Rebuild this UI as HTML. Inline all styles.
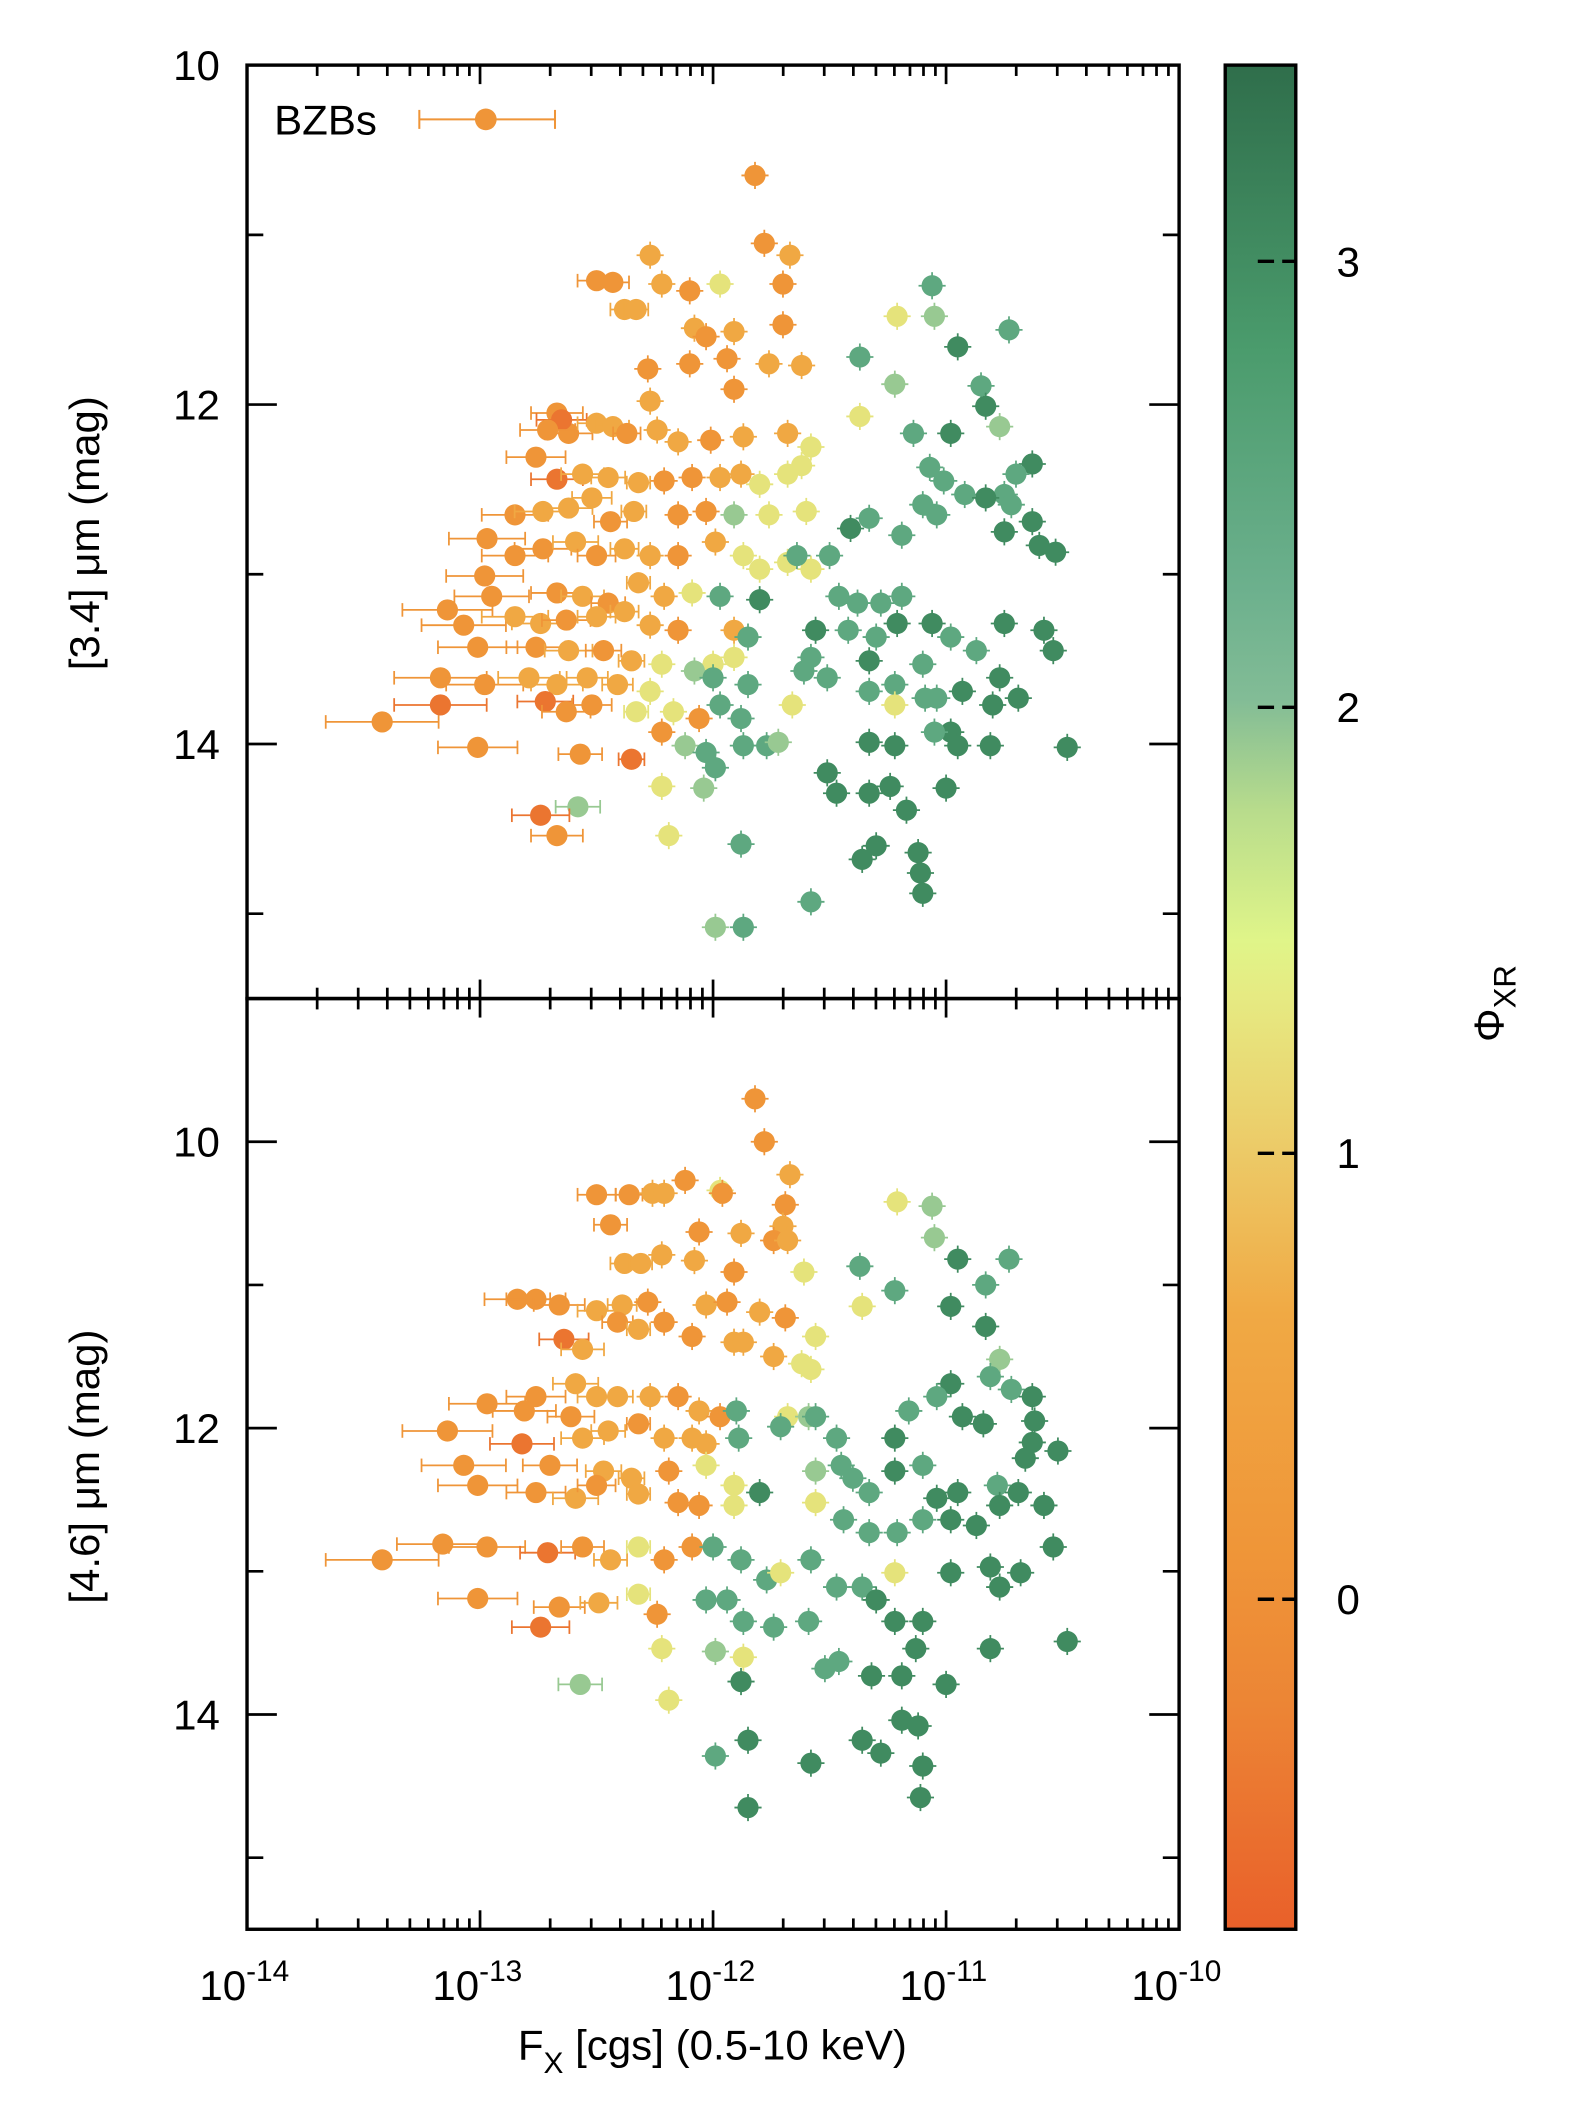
<!DOCTYPE html>
<html><head><meta charset="utf-8"><style>
html,body{margin:0;padding:0;background:#fff}
svg{display:block}
text{font-family:"Liberation Sans","DejaVu Sans",sans-serif;fill:#000}
</style></head><body>
<svg id="chart" width="1574" height="2126" viewBox="0 0 1160 1567" xmlns="http://www.w3.org/2000/svg">
<defs>
<linearGradient id="cbar" x1="0" y1="1" x2="0" y2="0">
<stop offset="0" stop-color="#e9602a"/>
<stop offset="0.12" stop-color="#ec8535"/>
<stop offset="0.2" stop-color="#ef9538"/>
<stop offset="0.33" stop-color="#f0a944"/>
<stop offset="0.42" stop-color="#eccb68"/>
<stop offset="0.5" stop-color="#e6ea82"/>
<stop offset="0.53" stop-color="#e0f589"/>
<stop offset="0.6" stop-color="#b8dc8c"/>
<stop offset="0.66" stop-color="#82bc96"/>
<stop offset="0.72" stop-color="#6cb08d"/>
<stop offset="0.85" stop-color="#4a9b6c"/>
<stop offset="1" stop-color="#2f6e4b"/>
</linearGradient>
</defs>
<g id="plots"></g>
</svg>
<script>
// Phi class values
const phiClasses = {R:-0.45, O:0.1, L:0.6, Y:1.2, G1:1.75, G2:2.3, G3:2.9};
// Top panel: [log Fx, [3.4] mag, phi class]
const topPoints = [
[-11.82,10.65,'O'],[-11.78,11.05,'O'],[-11.67,11.12,'L'],[-12.27,11.12,'L'],[-12.50,11.27,'O'],[-12.43,11.28,'O'],[-12.22,11.29,'L'],[-12.10,11.33,'O'],[-11.97,11.29,'Y'],[-11.70,11.29,'O'],
[-11.06,11.30,'G2'],[-11.21,11.48,'Y'],[-11.05,11.48,'G1'],[-10.73,11.56,'G2'],[-12.38,11.44,'L'],[-12.33,11.44,'L'],[-12.08,11.55,'L'],[-12.03,11.60,'O'],[-11.91,11.57,'L'],[-11.70,11.53,'O'],
[-11.37,11.72,'G2'],[-10.95,11.66,'G3'],[-12.10,11.76,'O'],[-11.94,11.73,'O'],[-11.76,11.76,'L'],[-11.62,11.77,'L'],[-11.22,11.88,'G1'],[-12.28,11.79,'O'],[-11.91,11.91,'O'],[-12.27,11.98,'L'],
[-10.85,11.89,'G2'],[-10.83,12.01,'G3'],[-10.77,12.13,'G1'],[-11.37,12.07,'Y'],[-11.14,12.17,'G2'],[-10.98,12.17,'G3'],[-12.67,12.05,'O'],[-12.62,12.17,'O'],[-12.65,12.09,'R'],[-12.71,12.15,'O'],
[-12.50,12.11,'L'],[-12.43,12.13,'L'],[-12.37,12.17,'O'],[-12.24,12.15,'L'],[-12.15,12.22,'L'],[-12.01,12.21,'O'],[-11.87,12.19,'L'],[-11.68,12.17,'L'],[-11.58,12.25,'Y'],[-10.63,12.35,'G3'],
[-10.70,12.41,'G2'],[-10.75,12.53,'G2'],[-10.72,12.59,'G2'],[-12.76,12.31,'O'],[-12.67,12.44,'R'],[-12.56,12.41,'L'],[-12.45,12.43,'L'],[-12.32,12.46,'L'],[-12.21,12.45,'O'],[-12.09,12.43,'O'],
[-11.97,12.43,'L'],[-11.88,12.41,'L'],[-11.80,12.47,'Y'],[-11.68,12.41,'Y'],[-11.62,12.36,'Y'],[-11.07,12.37,'G2'],[-11.01,12.45,'G2'],[-11.10,12.59,'G2'],[-10.92,12.53,'G2'],[-10.83,12.55,'G3'],
[-12.85,12.65,'O'],[-12.73,12.63,'L'],[-12.62,12.61,'L'],[-12.52,12.55,'L'],[-12.44,12.69,'O'],[-12.34,12.63,'L'],[-12.15,12.65,'O'],[-12.03,12.63,'O'],[-11.91,12.65,'G1'],[-11.76,12.65,'Y'],
[-11.60,12.63,'Y'],[-11.41,12.73,'G3'],[-11.19,12.77,'G2'],[-11.33,12.67,'G2'],[-11.04,12.65,'G2'],[-10.75,12.75,'G3'],[-10.63,12.69,'G3'],[-10.60,12.83,'G3'],[-10.53,12.87,'G3'],[-12.97,12.79,'O'],
[-12.85,12.89,'O'],[-12.73,12.85,'O'],[-12.59,12.81,'L'],[-12.50,12.89,'O'],[-12.38,12.85,'L'],[-12.27,12.89,'L'],[-12.15,12.89,'O'],[-11.99,12.81,'L'],[-11.87,12.89,'Y'],[-11.80,12.97,'Y'],
[-11.68,12.93,'Y'],[-11.58,12.97,'Y'],[-11.64,12.89,'G2'],[-11.50,12.89,'G2'],[-12.98,13.01,'O'],[-12.95,13.13,'O'],[-12.67,13.11,'O'],[-12.56,13.13,'L'],[-12.45,13.17,'O'],[-12.32,13.05,'L'],
[-12.21,13.13,'L'],[-12.09,13.11,'Y'],[-11.97,13.13,'G2'],[-11.80,13.15,'G3'],[-11.46,13.13,'G2'],[-11.38,13.17,'G2'],[-11.28,13.17,'G2'],[-11.19,13.13,'G2'],[-13.14,13.21,'O'],[-13.07,13.30,'O'],
[-12.85,13.25,'L'],[-12.74,13.29,'L'],[-12.63,13.27,'O'],[-12.50,13.25,'L'],[-12.38,13.22,'L'],[-12.27,13.30,'L'],[-12.15,13.33,'O'],[-11.91,13.33,'L'],[-11.56,13.33,'G3'],[-11.42,13.33,'G2'],
[-11.30,13.37,'G2'],[-11.21,13.29,'G3'],[-11.06,13.29,'G3'],[-10.98,13.37,'G2'],[-10.75,13.29,'G3'],[-10.58,13.33,'G3'],[-13.01,13.43,'O'],[-12.76,13.43,'O'],[-12.62,13.45,'L'],[-12.47,13.45,'O'],
[-12.35,13.51,'L'],[-12.22,13.53,'Y'],[-12.00,13.53,'Y'],[-11.91,13.49,'Y'],[-11.85,13.37,'G2'],[-11.58,13.49,'G2'],[-11.33,13.51,'G3'],[-11.10,13.53,'G2'],[-10.87,13.45,'G2'],[-10.77,13.61,'G3'],
[-10.54,13.45,'G3'],[-13.17,13.61,'O'],[-12.98,13.65,'O'],[-12.79,13.61,'L'],[-12.67,13.65,'L'],[-12.54,13.61,'L'],[-12.41,13.65,'L'],[-12.27,13.69,'Y'],[-12.08,13.57,'G1'],[-12.00,13.61,'G2'],
[-11.85,13.65,'G2'],[-11.61,13.57,'G2'],[-11.51,13.61,'G2'],[-11.33,13.69,'G2'],[-11.22,13.65,'G2'],[-11.04,13.73,'G2'],[-10.93,13.69,'G3'],[-10.80,13.77,'G3'],[-10.69,13.73,'G3'],[-13.42,13.87,'O'],
[-13.17,13.77,'R'],[-12.72,13.75,'R'],[-12.63,13.81,'O'],[-12.52,13.77,'O'],[-12.33,13.81,'Y'],[-12.17,13.81,'Y'],[-12.06,13.85,'O'],[-11.97,13.77,'G2'],[-11.88,13.85,'G2'],[-11.66,13.77,'Y'],
[-11.22,13.77,'Y'],[-11.09,13.73,'G2'],[-10.98,13.93,'G3'],[-13.01,14.02,'O'],[-12.57,14.06,'O'],[-12.35,14.09,'R'],[-12.22,13.93,'O'],[-12.12,14.01,'G1'],[-12.03,14.05,'G2'],[-11.87,14.01,'G2'],
[-11.77,14.01,'G2'],[-11.72,13.99,'G1'],[-11.33,13.99,'G3'],[-11.22,14.01,'G3'],[-11.05,13.93,'G2'],[-10.95,14.01,'G3'],[-10.81,14.01,'G3'],[-10.48,14.02,'G3'],[-12.58,14.37,'G1'],[-12.74,14.42,'R'],
[-12.67,14.54,'O'],[-12.22,14.25,'Y'],[-12.04,14.26,'G1'],[-11.99,14.14,'G2'],[-11.51,14.17,'G3'],[-11.47,14.29,'G3'],[-11.33,14.29,'G3'],[-11.24,14.25,'G3'],[-11.17,14.39,'G3'],[-11.00,14.26,'G3'],
[-12.19,14.54,'Y'],[-11.88,14.59,'G2'],[-11.36,14.68,'G3'],[-11.30,14.60,'G3'],[-11.12,14.64,'G3'],[-11.11,14.76,'G3'],[-11.10,14.88,'G3'],[-11.58,14.93,'G2'],[-11.99,15.08,'G1'],[-11.87,15.08,'G2']
];
// Bottom panel: [log Fx, [4.6] mag, phi class]
const botPoints = [
[-11.82,9.70,'O'],[-11.78,10.00,'O'],[-11.67,10.23,'L'],[-11.97,10.34,'Y'],[-11.96,10.36,'O'],[-12.12,10.27,'O'],[-12.50,10.37,'O'],[-12.36,10.37,'O'],[-12.26,10.36,'L'],[-12.21,10.36,'L'],
[-11.21,10.42,'Y'],[-11.06,10.45,'G1'],[-12.44,10.58,'O'],[-12.06,10.63,'O'],[-11.88,10.64,'L'],[-11.69,10.44,'O'],[-11.70,10.59,'L'],[-11.74,10.69,'O'],[-11.68,10.69,'L'],[-11.05,10.67,'G1'],
[-10.95,10.82,'G3'],[-10.73,10.82,'G2'],[-11.37,10.87,'G2'],[-11.22,11.04,'G2'],[-12.38,10.85,'L'],[-12.31,10.85,'L'],[-12.22,10.79,'L'],[-12.08,10.83,'L'],[-11.91,10.91,'O'],[-11.61,10.91,'Y'],
[-11.36,11.15,'Y'],[-10.83,11.00,'G2'],[-10.83,11.29,'G3'],[-10.77,11.52,'G1'],[-10.98,11.15,'G3'],[-12.84,11.10,'O'],[-12.76,11.10,'O'],[-12.66,11.14,'O'],[-12.50,11.18,'L'],[-12.39,11.14,'L'],
[-12.28,11.12,'O'],[-12.03,11.14,'L'],[-11.94,11.12,'O'],[-11.80,11.19,'L'],[-11.69,11.23,'O'],[-11.56,11.36,'Y'],[-12.64,11.38,'R'],[-12.56,11.45,'L'],[-12.41,11.26,'O'],[-12.32,11.31,'L'],
[-12.21,11.26,'O'],[-12.09,11.36,'O'],[-11.91,11.40,'L'],[-11.87,11.40,'L'],[-11.74,11.50,'L'],[-11.62,11.55,'Y'],[-11.58,11.59,'Y'],[-10.81,11.64,'G2'],[-10.72,11.73,'G2'],[-10.98,11.69,'G3'],
[-11.04,11.78,'G2'],[-11.16,11.88,'G2'],[-10.93,11.92,'G3'],[-10.84,11.97,'G3'],[-10.63,11.78,'G3'],[-10.62,11.95,'G3'],[-10.63,12.10,'G3'],[-10.66,12.21,'G3'],[-10.52,12.16,'G3'],[-12.76,11.78,'O'],
[-12.59,11.69,'L'],[-12.50,11.78,'L'],[-12.41,11.78,'L'],[-12.27,11.78,'L'],[-12.15,11.78,'O'],[-12.06,11.88,'L'],[-11.97,11.92,'O'],[-11.90,11.88,'G2'],[-11.68,11.92,'Y'],[-11.59,11.92,'G1'],
[-11.47,12.07,'G2'],[-12.97,11.83,'O'],[-12.81,11.88,'O'],[-12.61,11.92,'O'],[-12.56,12.07,'L'],[-12.45,12.02,'L'],[-12.32,11.97,'O'],[-12.21,12.07,'L'],[-12.09,12.07,'L'],[-12.03,12.11,'L'],
[-11.89,12.07,'G2'],[-11.71,11.99,'G2'],[-11.56,11.92,'G2'],[-11.45,12.26,'G2'],[-11.22,12.07,'G3'],[-11.10,12.26,'G2'],[-10.78,12.40,'G2'],[-10.69,12.45,'G3'],[-10.58,12.54,'G3'],[-13.14,12.02,'O'],
[-13.07,12.26,'O'],[-12.82,12.11,'R'],[-12.70,12.26,'O'],[-12.47,12.30,'L'],[-12.35,12.35,'L'],[-12.19,12.30,'O'],[-12.03,12.26,'Y'],[-11.91,12.40,'Y'],[-11.80,12.45,'G3'],[-11.56,12.30,'G1'],
[-11.40,12.35,'G2'],[-11.33,12.45,'G2'],[-11.22,12.30,'G3'],[-11.04,12.49,'G3'],[-10.95,12.45,'G3'],[-10.77,12.54,'G3'],[-13.01,12.40,'O'],[-12.76,12.45,'O'],[-12.59,12.49,'L'],[-12.50,12.40,'O'],
[-12.32,12.46,'L'],[-12.15,12.52,'O'],[-12.06,12.54,'O'],[-11.91,12.54,'Y'],[-11.56,12.52,'Y'],[-11.44,12.64,'G2'],[-11.33,12.73,'G2'],[-11.21,12.73,'G2'],[-11.10,12.64,'G2'],[-10.98,12.64,'G3'],
[-10.87,12.68,'G3'],[-13.42,12.92,'O'],[-13.16,12.81,'O'],[-12.97,12.83,'O'],[-12.71,12.87,'R'],[-12.56,12.83,'O'],[-12.44,12.92,'L'],[-12.32,12.83,'Y'],[-12.21,12.92,'O'],[-12.09,12.83,'O'],
[-12.00,12.83,'G2'],[-11.88,12.92,'G2'],[-11.77,13.06,'G2'],[-11.71,13.01,'Y'],[-11.58,12.92,'G2'],[-11.47,13.11,'G2'],[-11.36,13.11,'G2'],[-11.22,13.01,'Y'],[-10.98,13.01,'G3'],[-10.81,12.97,'G3'],
[-10.77,13.11,'G3'],[-10.68,13.01,'G3'],[-10.54,12.83,'G3'],[-13.01,13.19,'O'],[-12.74,13.39,'R'],[-12.66,13.25,'O'],[-12.49,13.22,'L'],[-12.32,13.16,'Y'],[-12.24,13.30,'O'],[-12.03,13.20,'G2'],
[-11.94,13.20,'G2'],[-11.87,13.35,'G2'],[-11.74,13.39,'G2'],[-11.59,13.35,'G2'],[-11.30,13.20,'G3'],[-11.22,13.35,'G3'],[-11.10,13.35,'G3'],[-10.81,13.54,'G3'],[-10.48,13.49,'G3'],[-12.22,13.54,'Y'],
[-11.99,13.56,'G1'],[-11.87,13.60,'Y'],[-11.52,13.68,'G2'],[-11.46,13.63,'G2'],[-11.32,13.73,'G3'],[-11.19,13.73,'G3'],[-11.13,13.54,'G3'],[-11.00,13.79,'G3'],[-11.88,13.77,'G3'],[-12.57,13.79,'G1'],
[-12.19,13.90,'Y'],[-11.36,14.18,'G3'],[-11.28,14.27,'G3'],[-11.19,14.04,'G3'],[-11.12,14.08,'G3'],[-11.85,14.18,'G3'],[-11.99,14.29,'G2'],[-11.58,14.34,'G3'],[-11.10,14.36,'G3'],[-11.85,14.65,'G3'],
[-11.11,14.58,'G3']
];
const xTickLabels = ["-14","-13","-12","-11","-10"];
const cbTicks = [0,1,2,3];

const X0=182, X1=869;
const xs = v => X0 + (v+14)*(X1-X0)/4;
const P1 = {top:48, bot:736, min:10, max:15.5};
const P2 = {top:736, bot:1422, min:9, max:15.5};
const ys = (p,v) => p.top + (v-p.min)*(p.bot-p.top)/(p.max-p.min);
const CB = {x:903, w:52, top:48, bot:1422, min:-0.74, max:3.44};
const cbY = v => CB.bot - (v-CB.min)*(CB.bot-CB.top)/(CB.max-CB.min);

const stops=[[-0.74,[233,96,42]],[-0.24,[236,133,53]],[0.1,[239,149,56]],[0.64,[240,169,68]],[1.0,[236,203,104]],[1.35,[224,245,137]],[1.6,[184,220,140]],[1.85,[130,188,150]],[2.1,[108,176,141]],[2.6,[74,155,108]],[3.44,[47,110,75]]];
function col(v){
  for(let i=1;i<stops.length;i++){ if(v<=stops[i][0]){const a=stops[i-1],b=stops[i];const t=(v-a[0])/(b[0]-a[0]);
    return 'rgb('+a[1].map((c,k)=>Math.round(c+(b[1][k]-c)*t)).join(',')+')';}}
  return 'rgb(47,110,75)';
}
const NS='http://www.w3.org/2000/svg';
const root=document.getElementById('plots');
function mk(tag,attrs,parent){const e=document.createElementNS(NS,tag);for(const k in attrs)e.setAttribute(k,attrs[k]);(parent||root).appendChild(e);return e;}

function drawPoints(p,pts,name){
  const g=mk('g',{});
  
  
  pts.forEach(d=>{
    const c=col(phiClasses[d[2]]);
    const x=xs(d[0]), y=ys(p,d[1]);
    const pg=mk('g',{},g);
    
    
    if(d[0]<-12.3){
      const e=(-12.3-d[0])*30+8;
      mk('line',{x1:x-e,y1:y,x2:x+e,y2:y,stroke:c,'stroke-width':1.3},pg);
      mk('line',{x1:x-e,y1:y-5,x2:x-e,y2:y+5,stroke:c,'stroke-width':1.3},pg);
      mk('line',{x1:x+e,y1:y-5,x2:x+e,y2:y+5,stroke:c,'stroke-width':1.3},pg);
    } else {
      mk('line',{x1:x-10,y1:y,x2:x+10,y2:y,stroke:c,'stroke-width':1.3},pg);
      mk('line',{x1:x,y1:y-10,x2:x,y2:y+10,stroke:c,'stroke-width':1.3},pg);
    }
    mk('circle',{cx:x,cy:y,r:7.8,fill:c},pg);
  });
}
drawPoints(P1,topPoints,'w1-points');
drawPoints(P2,botPoints,'w2-points');

function frame(p,name,majors,minors,labels,yname,ty){
  const g=mk('g',{});
  
  
  mk('rect',{x:X0,y:p.top,width:X1-X0,height:p.bot-p.top,fill:'none',stroke:'#000','stroke-width':2.5},g);
  for(let d=-14;d<-10;d++){
    for(let m=1;m<=9;m++){
      if(m===1 && d===-14) continue;
      const x=xs(d+Math.log10(m)); const L=m===1?14:8;
      mk('line',{x1:x,y1:p.top,x2:x,y2:p.top+L,stroke:'#000','stroke-width':2},g);
      mk('line',{x1:x,y1:p.bot,x2:x,y2:p.bot-L,stroke:'#000','stroke-width':2},g);
    }
  }
  majors.forEach((v,i)=>{const y=ys(p,v);
    mk('line',{x1:X0,y1:y,x2:X0+22,y2:y,stroke:'#000','stroke-width':2},g);
    mk('line',{x1:X1,y1:y,x2:X1-22,y2:y,stroke:'#000','stroke-width':2},g);
    const t=mk('text',{x:162,y:y+11,'text-anchor':'end','font-size':31},g);t.textContent=labels[i];
    
    
  });
  minors.forEach(v=>{const y=ys(p,v);
    mk('line',{x1:X0,y1:y,x2:X0+12,y2:y,stroke:'#000','stroke-width':2},g);
    mk('line',{x1:X1,y1:y,x2:X1-12,y2:y,stroke:'#000','stroke-width':2},g);
  });
  const t=mk('text',{x:0,y:0,'text-anchor':'middle','font-size':31,transform:'translate(73,'+ty+') rotate(-90)'},g);
  t.textContent=yname;
  
  
}
frame(P1,'w1-panel',[10,12,14],[11,13,15],['10','12','14'],'[3.4] μm (mag)',393);
frame(P2,'w2-panel',[10,12,14],[9,11,13,15],['10','12','14'],'[4.6] μm (mag)',1081);

xTickLabels.forEach((s,i)=>{
  const x=xs(-14+i);
  const t=mk('text',{x:x-2,y:1474,'text-anchor':'middle','font-size':31});
  
  
  mk('tspan',{},t).textContent='10';
  mk('tspan',{dy:-14,'font-size':22},t).textContent=s;
});
const xt=mk('text',{x:525,y:1518,'text-anchor':'middle','font-size':31});


mk('tspan',{},xt).textContent='F';
mk('tspan',{dy:10,'font-size':22},xt).textContent='X';
mk('tspan',{dy:-10},xt).textContent=' [cgs] (0.5-10 keV)';

const lg=mk('g',{});


mk('text',{x:202,y:99,'font-size':31},lg).textContent='BZBs';
mk('line',{x1:309,y1:88,x2:409,y2:88,stroke:'#ef9538','stroke-width':1.5},lg);
mk('line',{x1:309,y1:81,x2:309,y2:95,stroke:'#ef9538','stroke-width':1.5},lg);
mk('line',{x1:409,y1:81,x2:409,y2:95,stroke:'#ef9538','stroke-width':1.5},lg);
mk('circle',{cx:358,cy:88,r:8,fill:'#ef9538'},lg);

const cb=mk('g',{});


mk('rect',{x:CB.x,y:CB.top,width:CB.w,height:CB.bot-CB.top,fill:'url(#cbar)',stroke:'#000','stroke-width':2.5},cb);
cbTicks.forEach(v=>{const y=cbY(v);
  mk('line',{x1:CB.x+24,y1:y,x2:CB.x+CB.w,y2:y,stroke:'#000','stroke-width':2.5,'stroke-dasharray':'12 6'},cb);
  const t=mk('text',{x:985,y:y+11,'font-size':31},cb);t.textContent=String(v);
  
  
});
const ct=mk('text',{x:0,y:0,'font-size':31,transform:'translate(1108,768) rotate(-90)'},cb);


mk('tspan',{},ct).textContent='Φ';
mk('tspan',{dy:9,'font-size':23},ct).textContent='XR';
</script>
</body></html>
